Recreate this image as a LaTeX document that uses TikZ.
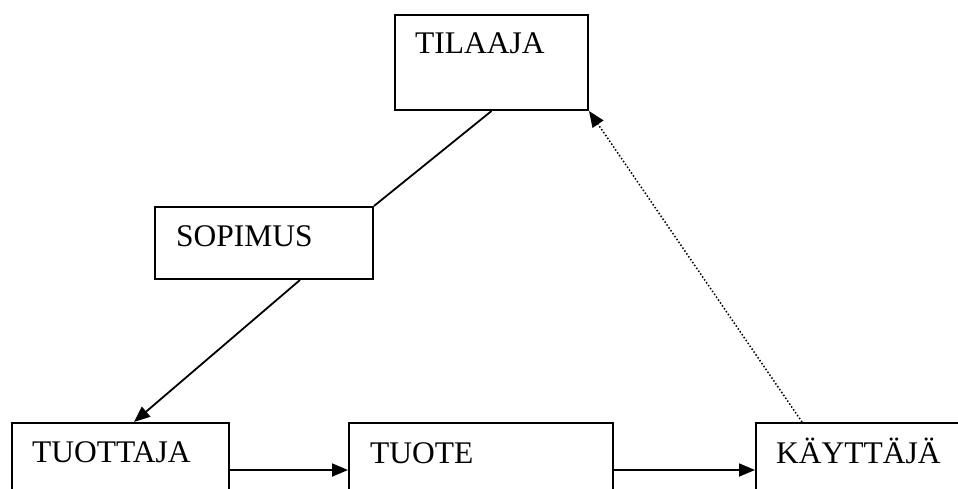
\documentclass[tikz,border=0pt]{standalone}
\usepackage{fontspec}
\setmainfont{Liberation Serif}
\usetikzlibrary{arrows.meta}
\begin{document}
\begin{tikzpicture}[x=1pt,y=-1pt,
  box/.style={draw,line width=2pt,rectangle,inner sep=0pt,anchor=north west},
  lbl/.style={anchor=base west,inner sep=0pt,font=\fontsize{31.5}{36}\selectfont},
  conn/.style={line width=1.8pt},
  arr/.style={conn,-{Triangle[length=16pt,width=13pt]}},
  dotarr/.style={line width=1.5pt,dotted,-{Triangle[length=16pt,width=13pt]}}]
\useasboundingbox (0,0) rectangle (958,489);
\fill[white] (0,0) rectangle (958,489);
\clip (0,0) rectangle (958,489);
\node[box,minimum width=193pt,minimum height=95pt] (tilaaja) at (394,14) {};
\node[box,minimum width=218pt,minimum height=72pt] (sopimus) at (154,206) {};
\node[box,minimum width=217pt,minimum height=110pt] (tuottaja) at (11,422) {};
\node[box,minimum width=264pt,minimum height=110pt] (tuote) at (348,422) {};
\node[box,minimum width=260pt,minimum height=110pt] (kayttaja) at (755,422) {};
\node[lbl] (t1) at (415,54) {TILAAJA};
\node[lbl] (t2) at (176,246) {SOPIMUS};
\node[lbl] (t3) at (32,462) {TUOTTAJA};
\node[lbl] (t4) at (370,463) {TUOTE};
\node[lbl] (t5) at (776,463) {KÄYTTÄJÄ};
\draw[conn] (tilaaja.south) -- (sopimus.north east);
\draw[arr] ([xshift=36pt]sopimus.south) -- ([xshift=13.5pt]tuottaja.north);
\draw[arr] (tuottaja.north east |- 0,470) -- (tuote.north west |- 0,470);
\draw[arr] (tuote.north east |- 0,470) -- (kayttaja.north west |- 0,470);
\draw[dotarr] (kayttaja.north west -| 802,0) -- (tilaaja.south east);
\end{tikzpicture}
\end{document}
